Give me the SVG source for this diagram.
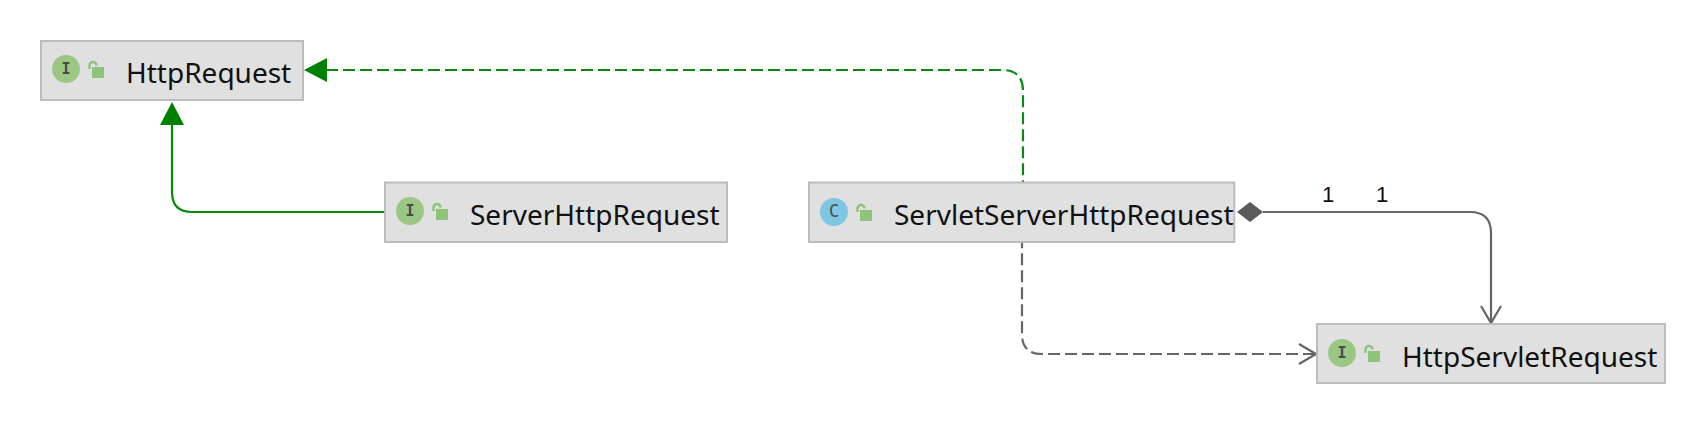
<svg xmlns="http://www.w3.org/2000/svg" width="1706" height="430" viewBox="0 0 1706 430">
<style>
.box{fill:#e0e0e0;stroke:#bcbcbc;stroke-width:2}
.name{font-family:"Noto Sans","Open Sans",sans-serif;font-size:28px;fill:#111}
.lab{font-family:"Liberation Sans",sans-serif;font-size:22px;fill:#111;text-anchor:middle}
.ii{fill:#9ac884}.ci{fill:#7fc6e2}
.g{font-family:"DejaVu Sans Mono",monospace;font-size:15px;font-weight:bold;fill:#4a4a4a;text-anchor:middle}
.lk{fill:#8ec47a}.ls{fill:none;stroke:#8ec47a;stroke-width:2.500}
.c{fill:none;stroke-width:2.200}
.gr{stroke:#0a8a0a}.gy{stroke:#666}
.d{stroke-dasharray:12 5}
</style>
<defs>
<g id="lock"><rect class="lk" x="4" y="5" width="12" height="11"/><path class="ls" d="M1.500 7V3.500A3.500 3.500 0 0 1 8.500 3.500"/></g>
</defs>
<g id="connectors">
<path class="c gr d" d="M326 70H1002Q1023 70 1023 91V182"/>
<polygon points="304,70 327,58 327,82" fill="#008000"/>
<path class="c gr" d="M384 212H192Q172 212 172 192V125"/>
<polygon points="172,102 160,125 184,125" fill="#008000"/>
<path class="c gy d" d="M1315 354H1042Q1022 354 1022 334V242"/>
<path class="c gy" d="M1299 344L1316 354L1299 364"/>
<path class="c gy" d="M1263 212H1470Q1491 212 1491 233V322"/>
<path class="c gy" d="M1481 306L1491 323L1501 306"/>
<polygon points="1237,212 1250,202 1263,212 1250,222" fill="#5a5a5a"/>
<text class="lab" x="1328" y="202">1</text>
<text class="lab" x="1382" y="202">1</text>
</g>
<g id="HttpRequest">
<rect class="box" x="41" y="41" width="262" height="59"/>
<circle class="ii" cx="66" cy="69" r="14"/><text class="g" x="66" y="74">I</text>
<use href="#lock" x="88" y="62"/>
<text class="name" x="126" y="83">HttpRequest</text>
</g>
<g id="ServerHttpRequest">
<rect class="box" x="385" y="182.500" width="342" height="59.500"/>
<circle class="ii" cx="410" cy="211" r="14"/><text class="g" x="410" y="216">I</text>
<use href="#lock" x="432" y="204"/>
<text class="name" x="470" y="225">ServerHttpRequest</text>
</g>
<g id="ServletServerHttpRequest">
<rect class="box" x="809" y="182.500" width="425.300" height="59.500"/>
<circle class="ci" cx="834" cy="212" r="14"/><text class="g" x="834" y="217" style="font-size:17px;font-weight:normal">C</text>
<use href="#lock" x="856" y="205"/>
<text class="name" x="894" y="225">ServletServerHttpRequest</text>
</g>
<g id="HttpServletRequest">
<rect class="box" x="1317" y="324" width="348" height="59"/>
<circle class="ii" cx="1342" cy="353" r="14"/><text class="g" x="1342" y="358">I</text>
<use href="#lock" x="1364" y="346"/>
<text class="name" x="1402" y="367">HttpServletRequest</text>
</g>
</svg>
